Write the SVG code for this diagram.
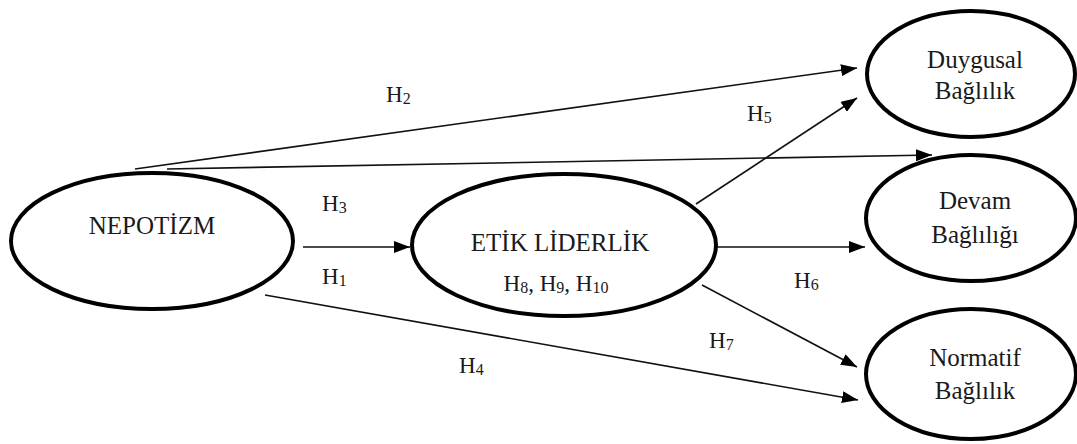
<svg xmlns="http://www.w3.org/2000/svg" width="1077" height="444" viewBox="0 0 1077 444">
  <style>
    .node { fill: #fff; stroke: #000; stroke-width: 4; }
    .t { font-family: "Liberation Serif", "Times New Roman", serif; font-size: 25px; fill: #1a1a1a; text-anchor: middle; }
    .lbl { font-family: "Liberation Serif", "Times New Roman", serif; font-size: 23px; fill: #1a1a1a; }
    .sub { font-size: 16px; }
    .edge { stroke: #111; stroke-width: 1.6; fill: none; marker-end: url(#arrow); }
  </style>
  <defs>
    <marker id="arrow" markerUnits="userSpaceOnUse" markerWidth="16" markerHeight="12" viewBox="0 0 16 12" refX="16" refY="6" orient="auto">
      <path d="M0,0 L16,6 L0,12 Z" fill="#000"/>
    </marker>
  </defs>
  <rect width="1077" height="444" fill="#fff"/>

  <g id="connectors">
    <line class="edge" x1="135" y1="169" x2="857" y2="68"/>
    <line class="edge" x1="167" y1="169" x2="932" y2="155"/>
    <line class="edge" x1="303" y1="247" x2="410" y2="247"/>
    <line class="edge" x1="265" y1="295" x2="858" y2="400"/>
    <line class="edge" x1="696" y1="204" x2="857" y2="98"/>
    <line class="edge" x1="717" y1="247" x2="865" y2="247"/>
    <line class="edge" x1="702" y1="285" x2="857" y2="367"/>
  </g>

  <g id="labels">
    <text class="lbl" x="386" y="102">H<tspan class="sub" dy="2">2</tspan></text>
    <text class="lbl" x="322" y="211">H<tspan class="sub" dy="2">3</tspan></text>
    <text class="lbl" x="322" y="284">H<tspan class="sub" dy="2">1</tspan></text>
    <text class="lbl" x="459" y="373">H<tspan class="sub" dy="2">4</tspan></text>
    <text class="lbl" x="747" y="121">H<tspan class="sub" dy="2">5</tspan></text>
    <text class="lbl" x="794" y="288">H<tspan class="sub" dy="2">6</tspan></text>
    <text class="lbl" x="709" y="348">H<tspan class="sub" dy="2">7</tspan></text>
  </g>

  <g id="nepotizm">
    <ellipse class="node" cx="152" cy="241" rx="141" ry="68"/>
    <text class="t" x="152" y="234">NEPOTİZM</text>
  </g>

  <g id="etik-liderlik">
    <ellipse class="node" cx="564" cy="245" rx="152" ry="71"/>
    <text class="t" x="560" y="251">ETİK LİDERLİK</text>
    <text class="lbl" x="556" y="291" text-anchor="middle">H<tspan class="sub" dy="2">8</tspan><tspan dy="-2">, H</tspan><tspan class="sub" dy="2">9</tspan><tspan dy="-2">, H</tspan><tspan class="sub" dy="2">10</tspan></text>
  </g>

  <g id="duygusal">
    <ellipse class="node" cx="971" cy="74" rx="104" ry="63"/>
    <text class="t" x="975" y="68">Duygusal</text>
    <text class="t" x="975" y="99">Bağlılık</text>
  </g>

  <g id="devam">
    <ellipse class="node" cx="971" cy="218" rx="105" ry="63"/>
    <text class="t" x="975" y="209">Devam</text>
    <text class="t" x="975" y="243">Bağlılığı</text>
  </g>

  <g id="normatif">
    <ellipse class="node" cx="971" cy="374" rx="105" ry="65"/>
    <text class="t" x="975" y="366">Normatif</text>
    <text class="t" x="975" y="399">Bağlılık</text>
  </g>
</svg>
